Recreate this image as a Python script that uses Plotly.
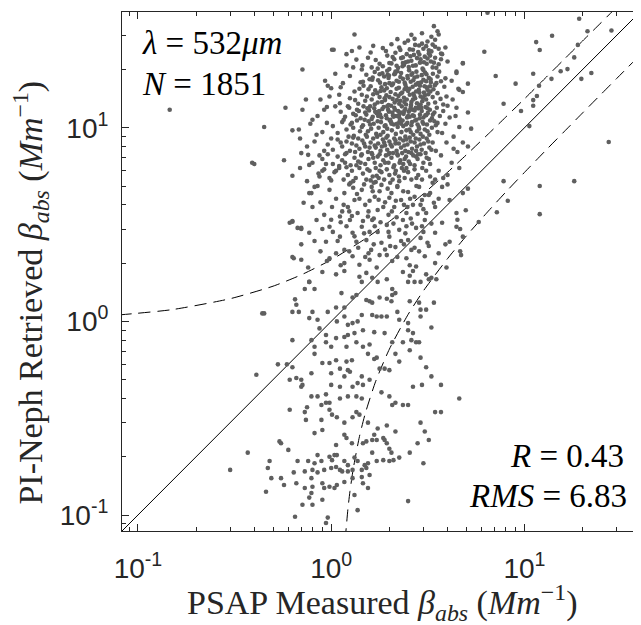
import plotly.graph_objects as go

# digitised scatter, (PSAP measured, PI-Neph retrieved) in Mm^-1
lower_pts = [
    (0.9, 1.8), (1.06, 1.75), (1.17, 1.82), (1.4, 1.7), (1.52, 1.78), (1.63, 1.68), (2.35, 1.8), (2.55, 1.72),
    (2.65, 1.82), (3.1, 1.75), (3.3, 1.68), (0.77, 1.6), (0.73, 1.47), (0.82, 1.47), (1.13, 1.4), (1.35, 1.37),
    (1.44, 1.6), (1.74, 1.6), (1.94, 1.65), (2.07, 1.47), (2.15, 1.4), (2.5, 1.6), (2.7, 1.6), (2.9, 1.6),
    (3.2, 1.65), (3.5, 1.65),
    (0.65, 1.3), (0.66, 1.22), (0.63, 1.12), (0.68, 1.12), (0.44, 1.1), (0.8, 1.12), (0.96, 1.12), (1.06, 1.18),
    (1.17, 1.18), (1.52, 1.29), (1.58, 1.27), (1.63, 1.25), (1.78, 1.33), (1.94, 1.31), (2.07, 1.37), (2.05, 1.27),
    (2.55, 1.27), (2.85, 1.25), (2.9, 1.15), (3.1, 1.15), (3.4, 1.25), (1.29, 1.33),
    (0.77, 1.04), (0.85, 1.02), (0.87, 0.92), (1.07, 1.0), (1.17, 1.06), (1.22, 0.96), (1.29, 0.98), (1.37, 1.0),
    (1.44, 1.08), (1.46, 0.9), (1.63, 1.08), (1.72, 1.06), (1.82, 1.06), (1.94, 1.06), (1.67, 0.88), (1.89, 0.87),
    (2.2, 1.12), (2.25, 1.02), (2.5, 0.98), (2.5, 0.9), (2.65, 0.87), (2.9, 1.06), (3.3, 0.93), (2.85, 0.78),
    (0.63, 0.8), (0.79, 0.8), (0.82, 0.74), (0.94, 0.85), (0.94, 0.78), (1.0, 0.74), (1.06, 0.82), (1.17, 0.83),
    (1.22, 0.85), (1.32, 0.87), (1.2, 0.74), (1.35, 0.78), (1.46, 0.74), (1.58, 0.76), (1.55, 0.68), (1.72, 0.65),
    (2.07, 0.78), (2.15, 0.68), (2.35, 0.78), (2.6, 0.8), (2.75, 0.78), (2.25, 0.62), (2.55, 0.71), (2.9, 0.65),
    (1.89, 0.57), (2.0, 0.56), (0.82, 0.68), (0.9, 0.61), (0.98, 0.61), (1.06, 0.63), (1.11, 0.57), (1.2, 0.62),
    (1.28, 0.63), (0.53, 0.6), (0.59, 0.6), (0.63, 0.58), (1.67, 0.64), (1.78, 0.57),
    (0.41, 0.53), (0.61, 0.5), (0.66, 0.51), (0.7, 0.5), (0.7, 0.46), (0.79, 0.41), (0.85, 0.41), (0.94, 0.42),
    (1.0, 0.54), (1.0, 0.47), (1.11, 0.46), (1.17, 0.52), (1.22, 0.56), (1.25, 0.55), (1.29, 0.46), (1.37, 0.48),
    (1.46, 0.47), (1.44, 0.52), (1.35, 0.41), (1.44, 0.4), (1.58, 0.5), (1.82, 0.43), (2.0, 0.41), (1.11, 0.4),
    (0.98, 0.38), (0.89, 0.37), (0.94, 0.38), (1.22, 0.41), (2.35, 0.37), (2.5, 0.37), (2.65, 0.46), (2.95, 0.47),
    (3.1, 0.58), (3.3, 0.52), (3.7, 0.47), (2.15, 0.38), (2.07, 0.37), (4.6, 0.4), (0.71, 0.47), (0.79, 0.54),
    (0.61, 0.35), (0.75, 0.36), (0.73, 0.34), (0.89, 0.31), (0.98, 0.35), (1.01, 0.33), (1.07, 0.32), (1.17, 0.3),
    (1.29, 0.32), (1.35, 0.34), (1.4, 0.33), (1.55, 0.3), (1.74, 0.28), (1.86, 0.25), (1.94, 0.29), (1.67, 0.26),
    (1.17, 0.26), (1.2, 0.25), (1.28, 0.235), (1.46, 0.235), (1.52, 0.24), (1.63, 0.244), (1.72, 0.244), (1.89, 0.244),
    (1.94, 0.235), (0.82, 0.265), (0.9, 0.275), (1.06, 0.23), (2.15, 0.27), (2.9, 0.3), (3.05, 0.27), (3.45, 0.34),
    (3.7, 0.34), (3.2, 0.244), (2.8, 0.235), (0.74, 0.31), (0.55, 0.235),
    (0.54, 0.24), (0.6, 0.217), (0.37, 0.21), (0.48, 0.19), (0.67, 0.19), (0.76, 0.19), (0.85, 0.204), (0.89, 0.19),
    (0.98, 0.2), (1.01, 0.192), (1.04, 0.204), (1.07, 0.204), (1.17, 0.19), (1.22, 0.181), (1.32, 0.198), (1.37, 0.19),
    (1.49, 0.181), (1.55, 0.185), (1.72, 0.19), (1.63, 0.21), (1.86, 0.192), (2.0, 0.22), (2.05, 0.21), (2.0, 0.19),
    (2.1, 0.192), (2.25, 0.198), (2.55, 0.21), (3.0, 0.185), (0.8, 0.171), (0.85, 0.166), (0.92, 0.171), (1.0, 0.175),
    (1.06, 0.177), (1.11, 0.171), (1.14, 0.168), (1.22, 0.168), (1.29, 0.171), (1.44, 0.171), (1.52, 0.175), (1.58, 0.161),
    (0.73, 0.168), (0.64, 0.166), (0.3, 0.171), (0.47, 0.175), (0.82, 0.185),
    (0.55, 0.155), (0.57, 0.143), (0.66, 0.146), (0.73, 0.138), (0.79, 0.155), (0.8, 0.14), (0.9, 0.146), (0.92, 0.138),
    (0.98, 0.14), (1.04, 0.138), (1.07, 0.143), (1.17, 0.148), (1.29, 0.155), (1.44, 0.157), (1.46, 0.146), (1.55, 0.138),
    (0.46, 0.132), (0.77, 0.123), (0.71, 0.113), (0.8, 0.113), (0.9, 0.12), (1.32, 0.127), (2.5, 0.118), (0.65, 0.098),
    (0.96, 0.097), (0.94, 0.091), (1.37, 0.106), (0.49, 0.155), (0.79, 0.13),
]

mid_pts = [
    (0.64, 2.12), (0.7, 2.08), (0.76, 1.9), (0.98, 2.12), (1.06, 2.25), (1.17, 2.0), (1.29, 2.17), (1.4, 1.96),
    (1.58, 2.08), (1.72, 1.9), (1.94, 2.2), (2.07, 2.05), (2.45, 2.12), (2.75, 1.92), (3.05, 2.17), (3.45, 2.0),
    (3.95, 1.9),
    (0.61, 3.23), (0.77, 2.87), (0.84, 3.34), (0.94, 2.58), (0.98, 3.08), (1.11, 2.74), (1.17, 2.34), (1.25, 3.34),
    (1.29, 2.87), (1.35, 2.58), (1.44, 3.08), (1.52, 2.63), (1.61, 2.34), (1.63, 3.34), (1.74, 2.9), (1.82, 2.55),
    (1.94, 3.15), (2.0, 2.74), (2.15, 2.42), (2.25, 2.97), (2.35, 3.34), (2.5, 2.63), (2.6, 2.34), (2.75, 3.04),
    (2.9, 2.7), (3.05, 3.34), (3.2, 2.45), (3.45, 2.87), (3.75, 3.23), (4.1, 2.58), (4.45, 3.08), (4.8, 2.74),
    (0.88, 2.3), (1.02, 2.9), (1.2, 3.1), (1.38, 2.4), (1.48, 2.85), (1.68, 3.1), (1.9, 2.35), (2.1, 3.2),
    (2.3, 2.6), (2.7, 2.4), (3.0, 2.9), (3.3, 3.2), (2.45, 3.1), (1.56, 2.25), (1.12, 3.25), (3.9, 2.5), (0.7, 2.5),
    (0.63, 3.27), (0.7, 3.04), (0.77, 4.6), (0.8, 3.9), (0.88, 4.12), (0.92, 3.55), (0.98, 4.78), (1.01, 3.9),
    (1.11, 3.48), (1.17, 4.6), (1.22, 3.9), (1.26, 5.2), (1.32, 4.24), (1.37, 3.63), (1.44, 4.78), (1.5, 4.0),
    (1.55, 3.48), (1.62, 4.95), (1.68, 4.4), (1.74, 3.76), (1.82, 5.07), (1.9, 4.12), (1.98, 3.55), (2.05, 4.6),
    (2.12, 3.9), (2.2, 4.95), (2.3, 4.24), (2.45, 3.63), (2.5, 4.66), (2.65, 4.0), (2.85, 4.95), (2.95, 4.24),
    (3.1, 3.63), (3.25, 4.6), (3.45, 3.9), (3.75, 4.95), (4.1, 4.24), (4.45, 3.63), (4.8, 4.6),
    (1.06, 4.3), (1.14, 3.7), (1.28, 3.5), (1.4, 4.3), (1.48, 5.1), (1.58, 4.2), (1.66, 3.4), (1.78, 4.7),
    (1.86, 3.9), (2.0, 4.35), (2.18, 3.45), (2.25, 5.3), (2.38, 4.0), (2.58, 3.4), (2.7, 4.4), (3.0, 3.8),
    (3.35, 5.2), (0.72, 4.1), (0.85, 5.0), (1.0, 3.35), (1.3, 4.9), (1.7, 5.25), (2.8, 3.6), (3.6, 4.3), (4.0, 5.1),
    (0.95, 2.05), (1.12, 1.95), (1.24, 2.3), (1.5, 2.15), (1.66, 2.5), (1.78, 2.2), (2.02, 2.45), (2.2, 2.15),
    (2.38, 2.5), (2.55, 1.95), (2.85, 2.3), (3.15, 2.55), (3.6, 2.25), (1.08, 2.6), (1.32, 2.75), (1.46, 3.3),
    (1.58, 2.9), (1.8, 3.25), (1.98, 2.9), (2.42, 2.85), (2.62, 3.2), (2.95, 3.1), (1.16, 4.0), (1.36, 4.55),
    (1.56, 3.7), (1.76, 4.25), (1.96, 4.85), (2.16, 4.2), (2.36, 4.7), (2.56, 4.3), (2.76, 5.0), (3.05, 4.5),
    (3.4, 4.1), (0.9, 3.0), (0.82, 2.6), (1.24, 3.7), (1.64, 4.7), (2.06, 3.7), (2.48, 3.9), (2.9, 4.0),
]

core_pts = [
    (2.25, 26.0), (2.4, 27.5), (2.55, 25.4), (2.7, 28.8), (2.85, 26.6), (3.0, 25.6), (3.15, 27.9), (3.3, 29.5),
    (3.45, 26.2), (3.55, 31.5), (2.6, 30.2), (3.2, 25.1), (1.85, 25.8), (2.05, 27.0), (3.4, 33.5), (2.95, 30.8),
    (1.7, 22.4), (1.85, 20.8), (1.95, 23.6), (2.05, 21.5), (2.15, 24.4), (2.22, 20.4), (2.3, 22.9), (2.38, 21.1),
    (2.46, 24.0), (2.52, 20.6), (2.6, 22.2), (2.68, 23.8), (2.74, 21.0), (2.82, 24.6), (2.9, 22.6), (2.97, 20.2),
    (3.05, 23.3), (3.12, 21.4), (3.2, 24.2), (3.28, 22.0), (3.35, 20.5), (3.45, 23.0), (3.6, 21.3), (3.75, 24.0),
    (1.6, 24.5), (2.0, 20.1), (2.35, 23.1), (2.65, 20.9), (2.88, 21.7), (3.15, 22.8), (2.5, 22.0), (2.78, 22.9),
    (3.5, 20.4), (2.12, 22.6),
    (1.42, 17.2), (1.52, 18.8), (1.6, 16.4), (1.68, 19.4), (1.75, 17.6), (1.82, 16.2), (1.88, 18.4), (1.95, 19.7),
    (2.0, 17.0), (2.06, 16.6), (2.12, 18.9), (2.18, 17.5), (2.24, 16.1), (2.3, 19.2), (2.35, 17.9), (2.42, 16.7),
    (2.48, 18.5), (2.53, 19.8), (2.58, 17.3), (2.64, 16.3), (2.7, 18.2), (2.76, 19.5), (2.82, 17.0), (2.88, 16.5),
    (2.94, 18.7), (3.0, 17.7), (3.06, 19.3), (3.12, 16.2), (3.2, 18.1), (3.28, 17.2), (3.36, 19.0), (3.44, 16.6),
    (3.55, 18.4), (3.7, 17.4), (3.85, 16.3), (1.58, 17.8), (1.78, 18.9), (1.98, 18.1), (2.2, 19.6), (2.4, 17.1),
    (2.6, 18.8), (2.8, 16.9), (3.0, 19.9), (3.25, 16.4), (2.28, 18.3), (2.66, 17.6), (3.1, 17.4), (1.9, 16.8),
    (1.25, 14.2), (1.32, 15.4), (1.38, 13.3), (1.44, 14.8), (1.5, 13.8), (1.56, 15.8), (1.62, 14.0), (1.68, 13.2),
    (1.73, 15.1), (1.78, 14.4), (1.83, 13.6), (1.88, 15.6), (1.93, 14.7), (1.98, 13.1), (2.03, 15.3), (2.08, 14.1),
    (2.13, 13.5), (2.18, 15.9), (2.23, 14.6), (2.28, 13.8), (2.33, 15.2), (2.38, 14.3), (2.44, 13.2), (2.5, 15.5),
    (2.55, 14.8), (2.6, 13.6), (2.66, 15.0), (2.72, 14.2), (2.78, 13.4), (2.84, 15.7), (2.9, 14.5), (2.96, 13.7),
    (3.02, 15.2), (3.1, 14.0), (3.18, 13.3), (3.26, 15.4), (3.35, 14.4), (3.45, 13.5), (3.55, 15.1), (3.68, 14.1),
    (3.8, 13.2), (1.4, 15.9), (1.65, 14.9), (1.9, 13.9), (2.15, 14.9), (2.4, 15.8), (2.65, 14.0), (2.9, 13.2),
    (3.15, 15.7), (2.0, 14.4), (2.46, 14.0), (2.75, 15.4), (3.05, 14.7), (1.8, 15.5), (2.25, 13.3),
    (1.12, 12.1), (1.18, 11.4), (1.24, 12.7), (1.3, 11.8), (1.36, 12.4), (1.42, 11.2), (1.47, 12.9), (1.52, 11.7),
    (1.57, 12.3), (1.62, 11.1), (1.67, 12.6), (1.72, 11.9), (1.77, 12.2), (1.82, 11.3), (1.87, 12.8), (1.92, 11.6),
    (1.97, 12.4), (2.02, 11.0), (2.07, 12.0), (2.12, 12.7), (2.17, 11.5), (2.22, 12.2), (2.27, 11.1), (2.32, 12.9),
    (2.37, 11.8), (2.42, 12.5), (2.47, 11.3), (2.52, 12.1), (2.58, 12.8), (2.64, 11.6), (2.7, 12.3), (2.76, 11.0),
    (2.82, 12.6), (2.88, 11.7), (2.94, 12.2), (3.0, 11.3), (3.08, 12.8), (3.16, 11.9), (3.24, 12.4), (3.32, 11.2),
    (3.42, 12.0), (3.52, 12.7), (3.65, 11.5), (3.8, 12.2), (1.5, 12.0), (1.75, 11.5), (1.95, 12.9), (2.25, 11.7),
    (2.55, 11.4), (2.85, 12.9), (3.1, 11.6), (2.1, 11.4), (2.65, 12.4),
    (1.02, 10.2), (1.08, 9.4), (1.14, 10.7), (1.2, 9.8), (1.26, 10.4), (1.31, 9.1), (1.36, 10.9), (1.41, 9.6),
    (1.46, 10.3), (1.51, 9.2), (1.56, 10.8), (1.61, 9.9), (1.66, 10.5), (1.71, 9.3), (1.76, 10.0), (1.81, 10.7),
    (1.86, 9.5), (1.91, 10.3), (1.96, 9.1), (2.01, 10.9), (2.06, 9.7), (2.11, 10.4), (2.16, 9.3), (2.21, 10.1),
    (2.26, 10.8), (2.31, 9.5), (2.36, 10.2), (2.42, 9.0), (2.48, 10.6), (2.54, 9.8), (2.6, 10.3), (2.66, 9.2),
    (2.72, 10.9), (2.78, 9.6), (2.84, 10.1), (2.9, 9.3), (2.97, 10.7), (3.05, 9.8), (3.13, 10.4), (3.22, 9.2),
    (3.32, 10.0), (3.42, 10.8), (3.55, 9.5), (1.3, 10.0), (1.55, 9.6), (1.8, 9.2), (2.05, 10.5), (2.3, 10.5),
    (2.58, 9.5), (2.85, 9.9), (3.15, 9.6), (1.95, 9.9), (2.45, 9.7),
    (0.96, 8.2), (1.02, 7.7), (1.08, 8.7), (1.14, 8.0), (1.2, 8.5), (1.25, 7.6), (1.3, 8.9), (1.35, 8.1),
    (1.4, 7.8), (1.45, 8.6), (1.5, 8.0), (1.55, 7.5), (1.6, 8.4), (1.65, 8.8), (1.7, 7.9), (1.75, 8.3),
    (1.8, 7.6), (1.85, 8.7), (1.9, 8.1), (1.95, 7.7), (2.0, 8.5), (2.06, 8.0), (2.12, 8.8), (2.18, 7.6),
    (2.24, 8.3), (2.3, 7.9), (2.36, 8.6), (2.42, 7.6), (2.48, 8.2), (2.55, 8.9), (2.62, 7.8), (2.7, 8.4),
    (2.78, 8.0), (2.86, 8.7), (2.94, 7.7), (3.02, 8.3), (3.12, 8.8), (3.22, 7.9), (3.35, 8.4), (3.48, 7.6),
    (1.28, 8.3), (1.58, 7.9), (1.88, 8.4), (2.15, 8.3), (2.45, 8.7), (2.75, 7.6), (0.92, 7.6),
    (0.9, 6.9), (0.96, 7.3), (1.02, 6.5), (1.08, 7.1), (1.14, 6.8), (1.2, 7.4), (1.26, 6.4), (1.32, 7.0),
    (1.38, 6.7), (1.44, 7.3), (1.5, 6.5), (1.56, 6.9), (1.62, 7.4), (1.68, 6.6), (1.74, 7.1), (1.8, 6.4),
    (1.86, 6.8), (1.92, 7.2), (1.98, 6.6), (2.05, 7.0), (2.12, 6.4), (2.2, 7.3), (2.28, 6.8), (2.36, 6.5),
    (2.44, 7.1), (2.52, 6.7), (2.6, 7.4), (2.7, 6.4), (2.8, 6.9), (2.9, 7.3), (3.0, 6.6), (3.12, 7.0),
    (3.25, 6.5), (1.35, 6.4), (1.65, 7.0), (2.0, 7.4), (2.4, 6.9), (2.75, 7.1), (1.1, 6.35),
    (0.86, 5.8), (0.92, 6.1), (0.98, 5.5), (1.04, 5.9), (1.1, 6.2), (1.16, 5.4), (1.22, 5.7), (1.28, 6.0),
    (1.34, 5.5), (1.4, 6.2), (1.46, 5.8), (1.52, 5.4), (1.58, 6.0), (1.64, 5.6), (1.7, 6.2), (1.76, 5.5),
    (1.82, 5.9), (1.88, 5.4), (1.94, 6.1), (2.0, 5.7), (2.08, 5.4), (2.16, 6.0), (2.24, 5.6), (2.32, 6.2),
    (2.4, 5.5), (2.5, 5.9), (2.6, 5.4), (2.7, 6.1), (2.82, 5.7), (2.95, 5.4), (3.1, 6.0), (3.25, 5.6),
    (1.2, 6.25), (1.6, 5.35), (2.1, 6.25), (2.45, 6.2), (1.0, 5.35),
]

core_extra_pts = [
    (1.33, 13.9), (1.47, 16.5), (1.53, 14.5), (1.59, 12.9), (1.64, 18.2), (1.69, 15.6), (1.74, 13.5), (1.79, 17.1),
    (1.84, 19.1), (1.89, 14.2), (1.94, 16.0), (1.99, 18.6), (2.04, 13.0), (2.09, 16.9), (2.14, 19.0), (2.19, 13.9),
    (2.24, 17.3), (2.29, 15.0), (2.34, 20.8), (2.39, 13.6), (2.44, 16.2), (2.49, 18.0), (2.54, 15.9), (2.59, 13.1),
    (2.63, 19.1), (2.69, 14.6), (2.74, 16.7), (2.79, 18.4), (2.86, 15.2), (2.92, 17.2), (2.98, 14.3), (3.04, 16.4),
    (3.11, 18.9), (3.18, 14.9), (3.27, 17.8), (3.38, 15.8), (3.5, 17.0), (3.62, 19.5),
    (1.16, 11.0), (1.22, 12.9), (1.28, 10.6), (1.34, 11.6), (1.39, 12.2), (1.44, 10.1), (1.49, 11.0), (1.54, 12.6),
    (1.59, 10.4), (1.64, 11.4), (1.69, 12.1), (1.74, 10.8), (1.79, 11.7), (1.84, 12.5), (1.89, 10.2), (1.94, 11.2),
    (1.99, 12.1), (2.04, 10.7), (2.09, 11.6), (2.14, 12.4), (2.19, 10.5), (2.24, 11.4), (2.29, 12.0), (2.34, 10.9),
    (2.39, 12.2), (2.44, 10.4), (2.5, 11.5), (2.56, 12.4), (2.62, 10.7), (2.68, 11.5), (2.74, 12.7), (2.8, 10.4),
    (2.87, 11.2), (2.93, 12.7), (3.0, 10.5), (3.07, 11.6), (3.15, 12.6), (3.25, 10.9), (3.36, 11.7), (3.48, 10.3),
    (1.12, 8.4), (1.18, 7.3), (1.23, 9.0), (1.33, 7.5), (1.38, 8.8), (1.43, 7.2), (1.48, 8.3), (1.53, 9.0),
    (1.63, 7.3), (1.68, 8.1), (1.73, 9.0), (1.78, 7.3), (1.83, 8.0), (1.93, 8.9), (1.98, 7.3), (2.03, 8.2),
    (2.09, 7.4), (2.15, 8.6), (2.21, 7.2), (2.27, 8.8), (2.33, 7.4), (2.39, 8.1), (2.51, 7.5), (2.58, 8.5),
    (2.66, 7.2), (2.74, 8.8), (2.82, 7.3), (2.9, 8.2), (2.98, 9.0), (3.08, 7.4), (3.18, 8.5), (3.3, 7.7),
    (0.94, 6.5), (1.06, 6.0), (1.18, 6.6), (1.3, 5.3), (1.42, 6.6), (1.54, 6.1), (1.66, 5.2), (1.78, 6.0),
    (1.9, 6.6), (2.02, 5.2), (2.14, 5.8), (2.26, 6.6), (2.38, 6.0), (2.56, 6.5), (2.76, 5.5), (2.96, 6.2),
    (3.2, 6.9), (1.24, 5.1), (1.72, 5.65), (2.2, 5.0),
    (1.78, 21.4), (1.92, 24.9), (2.08, 23.2), (2.18, 20.9), (2.28, 25.2), (2.43, 21.8), (2.57, 23.4), (2.72, 26.8),
    (2.86, 23.9), (3.02, 21.8), (3.1, 26.4), (3.25, 23.6), (3.4, 21.7), (3.6, 25.6), (2.5, 28.2), (2.2, 28.7),
    (1.65, 26.5), (3.7, 22.6),
]

edge_pts = [
    (1.32, 30.3), (1.01, 25.3), (1.28, 24.9), (2.65, 25.3), (2.95, 27.2), (3.45, 28.5), (3.6, 30.3), (3.35, 26.9),
    (2.35, 21.6), (0.71, 20.0), (0.96, 16.5), (0.45, 10.1), (0.39, 6.6), (0.4, 6.5), (0.57, 6.8), (0.58, 12.7),
    (0.71, 12.4), (0.8, 11.0), (0.63, 9.7), (0.69, 8.8), (0.75, 8.0), (0.76, 7.25), (0.69, 6.2), (0.77, 6.43),
    (0.79, 4.6), (0.67, 3.04), (0.82, 4.95), (0.87, 5.6), (0.92, 12.4), (0.84, 9.2), (0.98, 14.5), (1.11, 13.4),
    (1.44, 20.0), (1.46, 17.3), (1.74, 20.2), (1.96, 18.8), (1.63, 17.7), (2.0, 21.6), (2.15, 19.5), (4.45, 19.5),
    (4.6, 15.7), (4.8, 15.3), (4.45, 12.7), (4.6, 10.1), (4.2, 17.5), (3.95, 14.5), (4.1, 11.3), (5.1, 8.0),
    (4.5, 7.5), (4.0, 5.7), (3.2, 4.5), (3.75, 9.4), (0.63, 5.65), (0.63, 3.3), (0.63, 2.15), (0.7, 3.0),
    (0.77, 1.6), (0.45, 1.1),
    (0.88, 14.0), (0.93, 17.5), (0.85, 11.5), (0.9, 9.5), (0.95, 12.8), (1.0, 16.0), (1.05, 19.0), (1.1, 14.8),
    (1.15, 17.0), (1.2, 21.0), (1.0, 8.8), (0.87, 7.2), (0.82, 8.5), (0.78, 10.5), (0.95, 10.6), (1.05, 12.9),
    (1.12, 16.2), (1.25, 18.5), (1.3, 20.5), (1.35, 22.5), (1.45, 21.0), (1.55, 23.0), (1.62, 20.5), (1.4, 26.0),
    (1.2, 24.0), (0.74, 14.0), (0.68, 9.8), (0.9, 6.0), (0.8, 6.6), (0.75, 5.3), (0.7, 7.4),
    (3.9, 10.5), (4.0, 13.0), (4.3, 9.0), (3.7, 7.2), (3.95, 8.4), (4.2, 6.6), (3.6, 6.0), (3.45, 5.4),
    (4.4, 11.5), (4.25, 14.0), (3.9, 18.0), (4.0, 22.0), (3.9, 26.0), (4.3, 7.8), (3.8, 5.5), (4.6, 6.2),
    (3.55, 10.6), (1.03, 25.3), (3.7, 24.2), (3.3, 24.8), (4.8, 21.6), (4.45, 19.2), (5.1, 16.9), (4.55, 15.9),
    (5.3, 9.9), (4.8, 8.4), (5.1, 12.0), (0.146, 12.4), (4.65, 2.3), (4.5, 3.35), (4.65, 3.0), (4.7, 2.2),
]

outlier_pts = [
    (6.44, 39.3), (19.2, 36.6), (28.2, 31.8), (13.9, 29.9), (11.5, 27.7), (12.0, 25.2), (21.2, 31.5), (18.9, 26.8),
    (18.1, 23.1), (16.7, 20.1), (15.4, 19.6), (13.8, 17.9), (11.1, 19.0), (11.1, 13.9), (11.1, 13.0), (11.6, 14.6),
    (9.0, 16.9), (7.1, 18.5), (6.2, 24.7), (7.8, 13.3), (9.6, 12.2), (10.6, 10.2), (19.7, 17.9), (22.2, 19.2),
    (27.3, 8.44), (18.1, 5.3), (12.0, 5.0), (12.0, 3.58), (7.8, 5.3), (8.2, 4.2), (7.2, 3.66), (5.8, 3.26),
    (4.97, 3.75), (5.1, 4.85), (4.8, 21.5), (11.9, 16.5),
]

all_pts = lower_pts + mid_pts + core_pts + core_extra_pts + edge_pts + outlier_pts
psap = [p[0] for p in all_pts]
neph = [p[1] for p in all_pts]

# 1:1 line and the dashed uncertainty envelope
one_to_one = [0.05, 60]
env_up_x = [0.08, 0.15, 0.3, 0.5, 0.7, 1, 1.5, 2, 3, 4, 5, 6.5, 8, 10, 13, 16, 20, 25, 30]
env_up_y = [1.08, 1.15, 1.31, 1.52, 1.74, 2.08, 2.67, 3.28, 4.56, 5.89, 7.24, 9.29, 11.35, 14.1, 18.3, 22.5, 28.1, 35.0, 42.0]
env_lo_x = [1.18, 1.2, 1.22, 1.25, 1.3, 1.4, 1.5, 1.7, 2, 2.5, 3, 4, 5, 6.5, 8, 10, 13, 16, 20, 25, 30, 40]
env_lo_y = [0.074, 0.089, 0.107, 0.132, 0.173, 0.254, 0.334, 0.491, 0.719, 1.086, 1.438, 2.11, 2.76, 3.71, 4.65,
            5.88, 7.71, 9.52, 11.94, 14.95, 17.96, 23.97]

major_ticks = [0.1, 1, 10]
major_text = ["10<sup>-1</sup>", "10<sup>0</sup>", "10<sup>1</sup>"]
minor_ticks = [0.09, 0.2, 0.3, 0.4, 0.5, 0.6, 0.7, 0.8, 0.9, 2, 3, 4, 5, 6, 7, 8, 9, 20, 30, 40]

axis_col = "#262626"
serif = "Liberation Serif"

fig = go.Figure()
fig.add_trace(go.Scatter(x=one_to_one, y=one_to_one, mode="lines",
                         line=dict(color="black", width=1), hoverinfo="skip"))
for ex, ey in [(env_up_x, env_up_y), (env_lo_x, env_lo_y)]:
    fig.add_trace(go.Scatter(x=ex, y=ey, mode="lines",
                             line=dict(color="black", width=1, dash="12px,7px", shape="spline", smoothing=0.6),
                             hoverinfo="skip"))
fig.add_trace(go.Scatter(x=psap, y=neph, mode="markers",
                         marker=dict(color="#5f5f5f", size=4.6, line=dict(width=0))))

axis_common = dict(
    type="log", range=[-1.0825, 1.598], automargin=False,
    tickmode="array", tickvals=major_ticks, ticktext=major_text,
    ticks="inside", ticklen=7, tickwidth=1, tickcolor=axis_col,
    showline=True, linecolor=axis_col, linewidth=1, mirror="allticks",
    showgrid=False, zeroline=False,
    minor=dict(tickmode="array", tickvals=minor_ticks, ticks="inside", ticklen=4,
               tickwidth=1, tickcolor=axis_col, showgrid=False),
    tickfont=dict(family="Liberation Sans", size=28, color=axis_col),
)
fig.update_xaxes(**axis_common, ticklabelstandoff=12)
fig.update_yaxes(**axis_common, ticklabelstandoff=7)

title_font = dict(family=serif, size=34, color=axis_col)
fig.add_annotation(x=0.502, y=-0.138, xref="paper", yref="paper", xanchor="center", yanchor="middle",
                   text="PSAP Measured <i>β</i><sub><i>abs</i></sub> (<i>Mm</i><sup>−1</sup>)",
                   showarrow=False, font=title_font)
fig.add_annotation(x=-0.177, y=0.46, xref="paper", yref="paper", xanchor="center", yanchor="middle",
                   text="PI-Neph Retrieved <i>β</i><sub><i>abs</i></sub> (<i>Mm</i><sup>−1</sup>)",
                   textangle=-90, showarrow=False, font=title_font)

ann_font = dict(family=serif, size=33, color="black")
fig.add_annotation(x=0.035, y=0.94, xref="paper", yref="paper", xanchor="left", yanchor="middle",
                   text="<i>λ</i> = 532<i>μm</i>", showarrow=False, font=ann_font)
fig.add_annotation(x=0.035, y=0.862, xref="paper", yref="paper", xanchor="left", yanchor="middle",
                   text="<i>N</i> = 1851", showarrow=False, font=ann_font)
fig.add_annotation(x=0.973, y=0.1445, xref="paper", yref="paper", xanchor="right", yanchor="middle",
                   text="<i>R</i> = 0.43", showarrow=False, font=ann_font)
fig.add_annotation(x=0.979, y=0.067, xref="paper", yref="paper", xanchor="right", yanchor="middle",
                   text="<i>RMS</i> = 6.83", showarrow=False, font=ann_font)

# the saved page sits 8px in from the window corner, so the figure is sized to fit inside it
fig.update_layout(
    width=633, height=617,
    margin=dict(l=114, r=1, t=4, b=94),
    paper_bgcolor="white", plot_bgcolor="white",
    showlegend=False,
)

fig.write_html("out.html")
